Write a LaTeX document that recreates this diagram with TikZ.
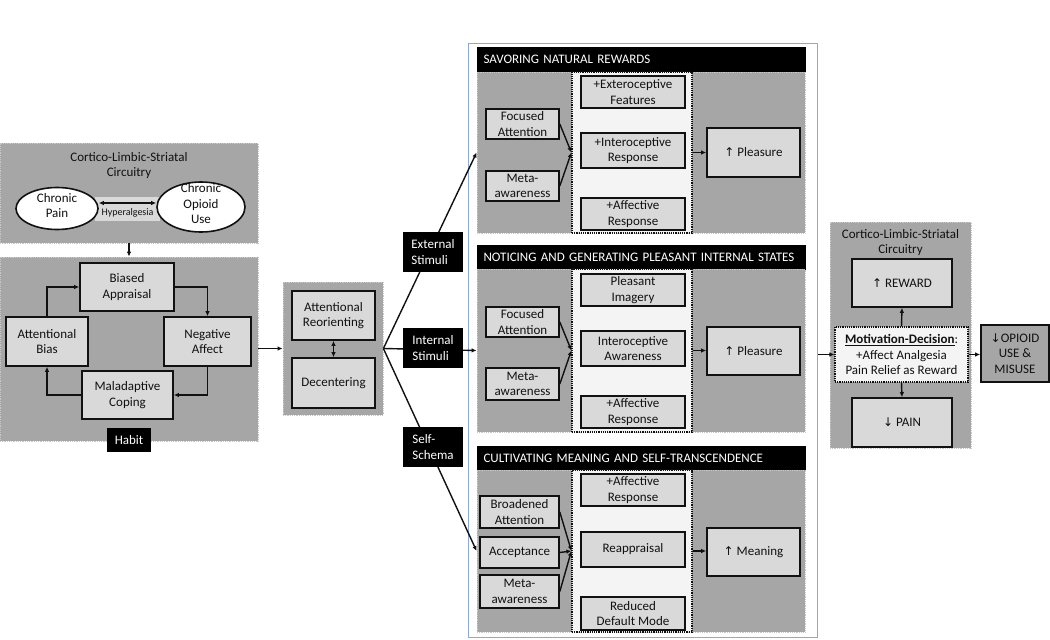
\documentclass[tikz,border=0pt]{standalone}
\usepackage{fontspec}
\setmainfont{Carlito}
\newfontfamily\arrfont{DejaVu Sans}
\usetikzlibrary{arrows.meta,shapes.geometric,calc}
\definecolor{panelgray}{HTML}{A6A6A6}
\definecolor{boxgray}{HTML}{D9D9D9}
\definecolor{dotgray}{HTML}{C8C8C8}
\definecolor{colfill}{HTML}{F4F4F4}
\definecolor{bluebd}{HTML}{8DA9CF}
\definecolor{ink}{HTML}{111111}
\newcommand{\upar}{{\arrfont\fontsize{12}{14}\selectfont ↑}}
\newcommand{\dnar}{{\arrfont\fontsize{12}{14}\selectfont ↓}}
\begin{document}
\begin{tikzpicture}[x=1pt,y=-1pt,
 every node/.style={font=\fontsize{13}{15.5}\selectfont, text=ink, inner sep=0pt},
 panel/.style={fill=panelgray, draw=dotgray, densely dotted, line width=0.8pt},
 box/.style={fill=boxgray, draw=ink, line width=1.6pt, align=center},
 col/.style={fill=colfill, draw=ink, densely dotted, line width=1.2pt},
 blk/.style={fill=black, text=white, align=left},
 hdr/.style={fill=black, text=white, align=left, text width=315pt, minimum height=25pt, inner xsep=7pt},
 ell/.style={ellipse, fill=white, draw=ink, line width=1.6pt},
 arr/.style={draw=ink, line width=1.4pt, -{Latex[length=5pt,width=4.5pt]}},
 darr/.style={draw=ink, line width=1.4pt, {Latex[length=5pt,width=4.5pt]}-{Latex[length=5pt,width=4.5pt]}},
]
\useasboundingbox (0,0) rectangle (1050,640);

% ---------- left: circuitry ----------
\node[panel, minimum width=258pt, minimum height=100pt] (ltp) at (129,193) {};
\node[align=center] (lttitle) at (129,165.5) {Cortico-Limbic-Striatal\\Circuitry};
\node[fill=boxgray, minimum width=65pt, minimum height=24pt] (hyp) at (127.5,209) {};
\node[ell, minimum width=82pt, minimum height=42pt] (pain) at (57,208.5) {};
\node[align=center] (paintxt) at (57,205.5) {Chronic\\Pain};
\node[ell, minimum width=88pt, minimum height=50pt] (opioid) at (201,207) {};
\node[align=center] (opioidtxt) at (201,204) {Chronic\\Opioid\\Use};
\coordinate (hypa) at (127.5,203);
\draw[darr] (pain.east |- hypa) -- (opioid.west |- hypa);
\node[font=\fontsize{10}{12}\selectfont] (hyptxt) at (127.5,213) {Hyperalgesia};

% ---------- left: habit loop ----------
\node[panel, minimum width=258pt, minimum height=184pt] (lbp) at (129,349) {};
\draw[arr] (ltp.south) -- (lbp.north);
\node[box, minimum width=94pt, minimum height=48pt] (ba) at (127,287) {Biased\\Appraisal};
\node[box, minimum width=82pt, minimum height=49pt] (ab) at (47,341.5) {Attentional\\Bias};
\node[box, minimum width=87pt, minimum height=49pt] (na) at (207.5,341.5) {Negative\\Affect};
\node[box, minimum width=91pt, minimum height=48pt] (mc) at (127.5,395) {Maladaptive\\Coping};
\node[blk, align=center, minimum width=44pt, minimum height=24pt] (habit) at (129,440) {Habit};
\draw[arr] (ab.north) |- (ba.west);
\draw[arr] (ba.east) -| (na.north);
\draw[arr] (na.south) |- (mc.east);
\draw[arr] (mc.west) -| (ab.south);

% ---------- middle ----------
\node[panel, minimum width=100pt, minimum height=133pt] (midp) at (333,348.5) {};
\draw[arr] (lbp.east |- midp.west) -- (midp.west);
\node[box, minimum width=83pt, minimum height=49pt] (ar) at (333.5,315.5) {Attentional\\Reorienting};
\node[box, minimum width=83pt, minimum height=50pt] (dc) at (333.5,383) {Decentering};
\draw[darr] (ar.south) -- (dc.north);

% ---------- central panel ----------
\node[fill=white, draw=bluebd, line width=1pt, minimum width=349pt, minimum height=594pt] (outer) at (642.5,340) {};

% panel 1
\node[hdr] (h1) at (641,59.5) {SAVORING NATURAL REWARDS};
\node[panel, minimum width=328pt, minimum height=161pt] (p1) at (641,152.5) {};
\node[col, minimum width=120pt, minimum height=161pt] (c1) at (632,152.5) {};
\node[box, minimum width=73pt, minimum height=30pt] (fa1) at (522.5,124) {Focused\\Attention};
\node[box, minimum width=73pt, minimum height=30pt] (ma1) at (522.5,186) {Meta-\\awareness};
\node[box, minimum width=104pt, minimum height=32pt] (ex1) at (633,92) {+Exteroceptive\\Features};
\node[box, minimum width=104pt, minimum height=35pt] (in1) at (633,150.5) {+Interoceptive\\Response};
\node[box, minimum width=104pt, minimum height=32pt] (af1) at (633,214) {+Affective\\Response};
\node[box, minimum width=93pt, minimum height=49pt] (pl1) at (753.5,152.5) {\upar\ Pleasure};
\draw[arr] (fa1.east) -- (c1.west);
\draw[arr] (ma1.east) -- (c1.west);
\draw[arr] (c1.east) -- (pl1.west);

% panel 2
\node[hdr] (h2) at (641,257) {NOTICING AND GENERATING PLEASANT INTERNAL STATES};
\node[panel, minimum width=328pt, minimum height=163pt] (p2) at (641,350.5) {};
\node[col, minimum width=120pt, minimum height=163pt] (c2) at (632,350.5) {};
\node[box, minimum width=73pt, minimum height=30pt] (fa2) at (522.5,322) {Focused\\Attention};
\node[box, minimum width=73pt, minimum height=32pt] (ma2) at (522.5,384) {Meta-\\awareness};
\node[box, minimum width=104pt, minimum height=32pt] (pi2) at (633,290) {Pleasant\\Imagery};
\node[box, minimum width=104pt, minimum height=35pt] (in2) at (633,348.5) {Interoceptive\\Awareness};
\node[box, minimum width=104pt, minimum height=32pt] (af2) at (633,412) {+Affective\\Response};
\node[box, minimum width=93pt, minimum height=48pt] (pl2) at (753.5,351) {\upar\ Pleasure};
\draw[arr] (fa2.east) -- (c2.west);
\draw[arr] (ma2.east) -- (c2.west);
\draw[arr] (c2.east) -- (c2.east -| pl2.west);

% panel 3
\node[hdr] (h3) at (641,458) {CULTIVATING MEANING AND SELF-TRANSCENDENCE};
\node[panel, minimum width=328pt, minimum height=162pt] (p3) at (641,551) {};
\node[col, minimum width=120pt, minimum height=162pt] (c3) at (632,551) {};
\node[box, minimum width=79pt, minimum height=32pt] (br3) at (519.5,512) {Broadened\\Attention};
\node[box, minimum width=79pt, minimum height=31pt] (ac3) at (519.5,552.5) {Acceptance};
\node[box, minimum width=79pt, minimum height=33pt] (ma3) at (519.5,591.5) {Meta-\\awareness};
\node[box, minimum width=104pt, minimum height=32pt] (af3) at (633,490) {+Affective\\Response};
\node[box, minimum width=104pt, minimum height=35pt] (re3) at (633,549.5) {Reappraisal};
\node[box, minimum width=104pt, minimum height=33pt] (rd3) at (633,613.5) {Reduced\\Default Mode};
\node[box, minimum width=93pt, minimum height=48pt] (mn3) at (753.5,552) {\upar\ Meaning};
\draw[arr] (br3.east) -- (c3.west);
\draw[arr] (ac3.east) -- (c3.west);
\draw[arr] (ma3.east) -- (c3.west);
\draw[arr] (c3.east) -- (c3.east -| mn3.west);

% ---------- fan from middle ----------
\draw[arr] (midp.east) -- (p1.west);
\draw[arr] (midp.east) -- (p2.west);
\draw[arr] (midp.east) -- (p3.west);
\node[blk, minimum width=60pt, minimum height=40pt] (ext) at (433,252) {External\\Stimuli};
\node[blk, minimum width=60pt, minimum height=40pt] (intl) at (433,348) {Internal\\Stimuli};
\node[blk, minimum width=60pt, minimum height=40pt] (selfs) at (433,447) {Self-\\Schema};

% ---------- right ----------
\node[panel, minimum width=141pt, minimum height=226pt] (crp) at (900.5,335) {};
\node[align=center] (crtitle) at (900.5,242.5) {Cortico-Limbic-Striatal\\Circuitry};
\node[box, minimum width=100pt, minimum height=48pt] (rew) at (902,283) {\upar\ REWARD};
\node[fill=colfill, draw=ink, densely dotted, line width=1.2pt, align=center, minimum width=133pt, minimum height=55pt] (mot) at (901.5,354.5) {\underline{\textbf{Motivation-Decision}}:\\+Affect Analgesia\\Pain Relief as Reward};
\node[box, minimum width=100pt, minimum height=49pt] (pain2) at (902,422.5) {\dnar\ PAIN};
\node[fill=panelgray, draw=ink, line width=1.6pt, align=center, minimum width=68pt, minimum height=57pt] (opi) at (1015,353.5) {\dnar OPIOID\\USE \&\\MISUSE};
\draw[arr] (outer.east |- mot.west) -- (mot.west);
\draw[arr] (mot.north) -- (rew.south);
\draw[arr] (mot.south) -- (pain2.north);
\draw[arr] (mot.east) -- (mot.east -| opi.west);
\end{tikzpicture}
\end{document}
